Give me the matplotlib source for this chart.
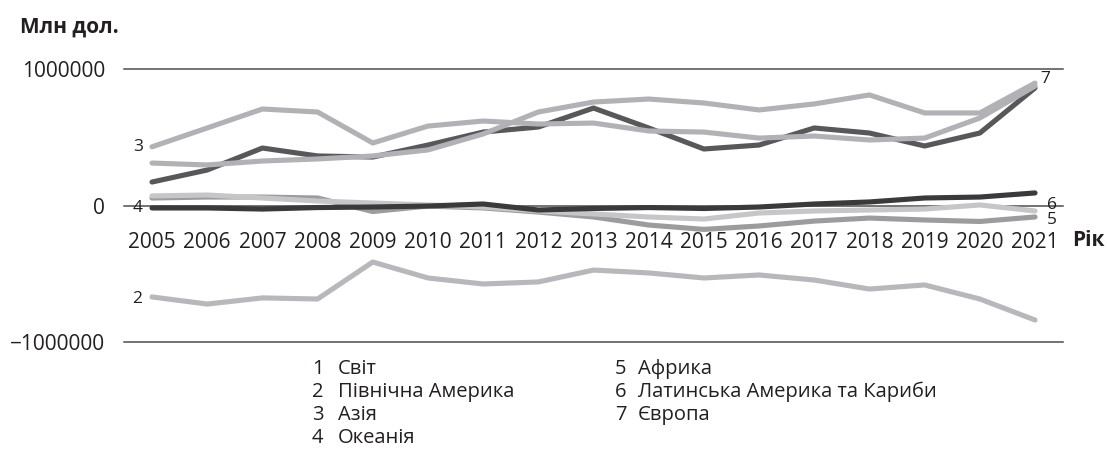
import matplotlib
matplotlib.use('Agg')
import matplotlib.pyplot as plt

plt.rcParams['font.family'] = ['Open Sans', 'DejaVu Sans']

# data (Млн дол.)
years = list(range(2005, 2022))

world = [172000, 260000, 421000, 363000, 355000, 443000, 538000, 575000, 714000,
         568000, 414000, 443000, 568000, 531000, 436000, 531000, 861000]
north_america = [-670000, -722000, -677000, -685000, -414000, -531000, -575000, -560000, -473000,
                 -494000, -531000, -509000, -546000, -612000, -582000, -685000, -839000]
asia = [430000, 568000, 707000, 685000, 458000, 582000, 619000, 597000, 604000,
        546000, 538000, 494000, 509000, 480000, 494000, 641000, 875000]
oceania = [-18000, -18000, -26000, -15000, -11000, -4000, 11000, -33000, -22000,
           -15000, -22000, -11000, 11000, 26000, 55000, 62000, 92000]
africa = [55000, 62000, 62000, 55000, -44000, -4000, -18000, -48000, -84000,
          -143000, -175000, -150000, -114000, -92000, -106000, -117000, -84000]
latam = [70000, 77000, 55000, 33000, 18000, 4000, -11000, -40000, -62000,
         -84000, -99000, -55000, -40000, -33000, -26000, 4000, -40000]
europe = [311000, 297000, 326000, 341000, 363000, 407000, 524000, 685000, 758000,
          780000, 751000, 700000, 744000, 810000, 678000, 678000, 897000]

names = ['Світ', 'Північна Америка', 'Азія', 'Океанія', 'Африка',
         'Латинська Америка та Кариби', 'Європа']
series = [world, north_america, asia, oceania, africa, latam, europe]

yticks = [-1000000, 0, 1000000]
ytick_labels = ['\u22121000000', '0', '1000000']

# styling per series (same order as names)
colors = ['#58585a', '#b8b8bc', '#b2b2b6', '#3a3a3c', '#9c9c9f', '#c6c6c8', '#b2b2b6']
zorders = [2.5, 2.0, 2.6, 3.0, 2.1, 2.2, 2.7]

# where the little number tags go: (series index, at start or end, pixel offset)
tags = [(1, 'start', (-15, -2)), (2, 'start', (-14, 0)), (3, 'start', (-14, 0)),
        (4, 'end', (17, -3)), (5, 'end', (17, 6)), (6, 'end', (10, 4))]

gridcol = '#4d4d4d'

fig = plt.figure(figsize=(11.07, 4.54), dpi=100)
ax = fig.add_axes([0.1124, 0.2467, 0.8475, 0.6013])

for vals, col, z in zip(series, colors, zorders):
    ax.plot(years, vals, color=col, lw=3.7, zorder=z,
            solid_capstyle='round', solid_joinstyle='round')

for i, where, off in tags:
    k = 0 if where == 'start' else -1
    ax.annotate(str(i + 1), xy=(years[k], series[i][k]), xytext=off,
                textcoords='offset pixels', ha='center', va='center',
                fontsize=12.5, color='#231f20', zorder=5)

ax.set_xlim(2004.5, 2021.5)
ax.set_ylim(-1000000, 1000000)

# zero line is the x axis itself, the other two are plain lines
for s in ['top', 'right', 'left']:
    ax.spines[s].set_visible(False)
ax.spines['bottom'].set_position(('data', 0))
ax.spines['bottom'].set_color(gridcol)
ax.spines['bottom'].set_linewidth(1.1)
ax.spines['bottom'].set_zorder(1)
for yv in [-1000000, 1000000]:
    ax.axhline(yv, color=gridcol, lw=1.1, clip_on=False, zorder=1)

ax.set_xticks(years)
ax.set_xticklabels([str(y) for y in years])
ax.set_yticks(yticks)
ax.set_yticklabels(ytick_labels)
ax.tick_params(axis='x', length=0, pad=19, labelsize=15, colors='#231f20')
ax.tick_params(axis='y', length=0, pad=14, labelsize=15, colors='#231f20')

fig.text(20 / 1107, 1 - 27 / 454, 'Млн дол.', fontsize=15, fontweight='bold',
         ha='left', va='center', color='#231f20')
fig.text(1072 / 1107, 1 - 241 / 454, 'Рік', fontsize=15, fontweight='bold',
         ha='left', va='center', color='#231f20')

# legend as two columns of numbered names
rows_y = [369, 392, 415, 438]
for i, nm in enumerate(names):
    col = i // 4
    row = i % 4
    xn = [312, 615][col]
    xt = [338, 638][col]
    yy = 1 - rows_y[row] / 454
    fig.text(xn / 1107, yy, str(i + 1), fontsize=14.5, ha='left', va='center', color='#231f20')
    fig.text(xt / 1107, yy, nm, fontsize=14.5, ha='left', va='center', color='#231f20')

plt.savefig('out.png', dpi=100)
